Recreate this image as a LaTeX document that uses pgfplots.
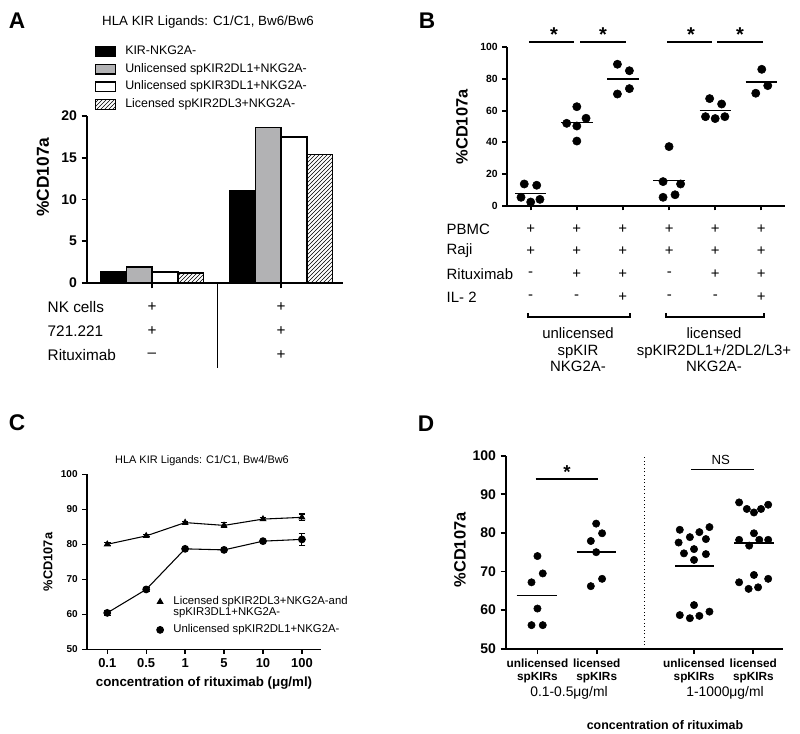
\documentclass[border=0pt]{standalone}
\usepackage{fontspec}
\setmainfont{Liberation Sans}
\usepackage{pgfplots}
\pgfplotsset{compat=1.18}
\usetikzlibrary{patterns}

\definecolor{barg}{RGB}{178,178,180}
\newcommand{\fs}[1]{\fontsize{#1}{#1}\selectfont}

\pgfplotsset{
  gp/.style={
    scale only axis,
    anchor=south west,
    axis x line=bottom, axis y line=left,
    axis line style={-, line width=1.4pt},
    tick align=outside,
    major tick length=4pt,
    tick style={line width=1.4pt, black},
    /pgf/number format/assume math mode=true,
    clip=false,
  },
  dots/.style={only marks, mark=*, black, mark size=#1},
  mean/.style={black, line width=1.2pt, no marks},
}

\begin{document}
\begin{tikzpicture}
\path[use as bounding box] (0,0) rectangle (600pt,550.5pt);

% ---------------- A ----------------
\begin{axis}[gp, at={(87*0.75pt,451*0.75pt)}, width=192pt, height=125.25pt,
  xmin=0.496, xmax=2.48, ymin=0, ymax=20,
  ytick={0,5,...,20}, xtick={1,2}, xticklabels={},
  yticklabel style={font=\fs{10.5}\bfseries},
  legend image code/.code={\draw[#1] (0pt,-3.6pt) rectangle (15pt,3.6pt);},
  legend style={draw=none, fill=none, at={(axis description cs:0.013,1.45)},
    anchor=north west, font=\fs{9.3}, row sep=2pt,
    nodes={inner sep=1.5pt, text height=6.5pt, text depth=1.8pt},
    /tikz/every odd column/.append style={column sep=5.5pt}},
  legend cell align=left]
\addplot[ybar, bar width=0.2, bar shift=0pt, draw=black, line width=1pt, fill=black]
  coordinates {(0.7,1.3) (1.7,11.0)};
\addlegendentry{KIR-NKG2A-}
\addplot[ybar, bar width=0.2, bar shift=0pt, draw=black, line width=1pt, fill=barg]
  coordinates {(0.9,1.9) (1.9,18.6)};
\addlegendentry{Unlicensed spKIR2DL1+NKG2A-}
\addplot[ybar, bar width=0.2, bar shift=0pt, draw=black, line width=1pt, fill=white]
  coordinates {(1.1,1.3) (2.1,17.5)};
\addlegendentry{Unlicensed spKIR3DL1+NKG2A-}
\addplot[ybar, bar width=0.2, bar shift=0pt, draw=black, line width=1pt, pattern=north east lines]
  coordinates {(1.3,1.2) (2.3,15.4)};
\addlegendentry{Licensed spKIR2DL3+NKG2A-}
\end{axis}

% ---------------- B ----------------
\begin{axis}[gp, at={(507*0.75pt,528.3*0.75pt)}, width=208.5pt, height=118.8pt,
  xmin=0.486, xmax=6.514, ymin=0, ymax=100,
  ytick={0,20,...,100}, xtick={1,...,6}, xticklabels={},
  major tick length=3.5pt,
  yticklabel style={font=\fs{7.8}\bfseries}]
\addplot[dots=3.1pt] coordinates {
  (0.86,13.7) (1.13,12.9) (0.79,5.3) (1.0,2.3) (1.2,4.0)
  (2.0,62.5) (1.78,52.0) (2.0,50.3) (2.2,55.2) (2.0,40.8)
  (2.88,89.3) (3.14,85.2) (2.88,70.5) (3.14,73.9)
  (4.0,37.3) (3.87,15.2) (4.25,13.7) (3.87,5.3) (4.13,6.9)
  (4.88,67.6) (5.14,64.2) (4.79,56.2) (5.0,55.0) (5.21,56.2)
  (6.01,86.1) (5.88,71.0) (6.14,75.8)};
\addplot[mean] coordinates {(0.66,7.6) (1.34,7.6)};
\addplot[mean] coordinates {(1.66,52.4) (2.34,52.4)};
\addplot[mean] coordinates {(2.66,80.0) (3.34,80.0)};
\addplot[mean] coordinates {(3.66,15.8) (4.34,15.8)};
\addplot[mean] coordinates {(4.66,60.0) (5.34,60.0)};
\addplot[mean] coordinates {(5.66,77.9) (6.34,77.9)};
\draw[line width=1pt] (0.96,103.3) -- (1.94,103.3);
\draw[line width=1pt] (2.07,103.3) -- (3.07,103.3);
\draw[line width=1pt] (3.96,103.3) -- (4.94,103.3);
\draw[line width=1pt] (5.04,103.3) -- (6.04,103.3);
\end{axis}

% ---------------- C ----------------
\begin{axis}[gp, at={(87*0.75pt,84.7*0.75pt)}, width=175.5pt, height=131.25pt,
  xmin=0.48, xmax=6.49, ymin=50, ymax=100,
  ytick={50,60,...,100}, xtick={1,...,6}, xticklabels={0.1,0.5,1,5,10,100},
  axis line style={-, line width=1pt}, tick style={line width=1pt, black},
  major tick length=3.5pt,
  yticklabel style={font=\fs{7.5}\bfseries},
  xticklabel style={font=\fs{9.7}\bfseries},
  legend image code/.code={\draw[#1, only marks] plot coordinates {(0cm,0cm)};},
  legend style={draw=none, fill=none, at={(axis description cs:0.28,0.32)},
    anchor=north west, font=\fs{8.5}, row sep=0pt,
    nodes={inner sep=0.5pt, text height=5.8pt, text depth=1.5pt},
    /tikz/every odd column/.append style={column sep=7pt}},
  legend cell align=left]
\addplot[black, line width=0.8pt, mark=triangle*, mark size=2.3pt,
  error bars/.cd, y dir=both, y explicit,
  error bar style={line width=0.8pt},
  error mark options={rotate=90, mark size=2.5pt, line width=0.8pt}]
  coordinates {(1,80.0) +- (0,0.4) (2,82.4) +- (0,0.3) (3,86.2) +- (0,0.4)
               (4,85.4) +- (0,0.7) (5,87.2) +- (0,0.4) (6,87.7) +- (0,0.95)};
\addlegendentry{Licensed spKIR2DL3+NKG2A-and}
\addlegendimage{empty legend}
\addlegendentry[text depth=6pt]{spKIR3DL1+NKG2A-}
\addplot[black, line width=0.8pt, mark=*, mark size=2.5pt,
  error bars/.cd, y dir=both, y explicit,
  error bar style={line width=0.8pt},
  error mark options={rotate=90, mark size=2.5pt, line width=0.8pt}]
  coordinates {(1,60.4) +- (0,0.7) (2,67.1) +- (0,0.6) (3,78.7) +- (0,0.4)
               (4,78.4) +- (0,0.3) (5,80.9) +- (0,0.4) (6,81.4) +- (0,1.7)};
\addlegendentry{Unlicensed spKIR2DL1+NKG2A-}
\end{axis}

% ---------------- D ----------------
\begin{axis}[gp, at={(506*0.75pt,85.3*0.75pt)}, width=207.75pt, height=144.75pt,
  xmin=0.47, xmax=5.14, ymin=50, ymax=100,
  ytick={50,60,...,100}, xtick={1,2,3.64,4.64},
  xticklabels={{unlicensed\\spKIRs},{licensed\\spKIRs},{unlicensed\\spKIRs},{licensed\\spKIRs}},
  xticklabel style={align=center, font=\fontsize{8.85}{9.75}\selectfont\bfseries},
  yticklabel style={font=\fs{10.5}\bfseries}]
\addplot[dots=2.75pt] coordinates {
  (1.0,74.0) (1.09,69.5) (0.9,67.2) (1.0,60.4) (0.9,56.1) (1.09,56.1)
  (1.99,82.4) (2.09,79.9) (1.9,77.9) (1.99,75.0) (2.09,68.1) (1.9,66.2)
  (3.40,80.8) (3.57,78.9) (3.73,80.2) (3.90,81.5) (3.38,77.5) (3.84,78.4)
  (3.47,74.7) (3.64,75.8) (3.84,74.5) (3.64,73.0) (3.40,58.7) (3.57,57.9)
  (3.73,58.5) (3.90,59.6) (3.64,61.3)
  (4.40,87.9) (4.53,86.2) (4.65,85.3) (4.77,86.2) (4.89,87.3) (4.40,78.2)
  (4.65,79.9) (4.74,78.2) (4.89,78.2) (4.57,76.7) (4.40,67.2) (4.56,65.5)
  (4.65,69.1) (4.72,65.9) (4.89,68.1)};
\addplot[mean] coordinates {(0.65,63.8) (1.33,63.8)};
\addplot[mean] coordinates {(1.66,75.0) (2.33,75.0)};
\addplot[mean] coordinates {(3.32,71.4) (3.98,71.4)};
\addplot[mean] coordinates {(4.32,77.4) (4.98,77.4)};
\draw[dotted, line width=0.7pt] (2.81,50) -- (2.81,100);
\draw[line width=1pt] (0.97,94.0) -- (2.02,94.0);
\draw[line width=1pt] (3.59,96.5) -- (4.65,96.5);
\node[font=\fs{9.9}] at (4.09,98.9) {NS};
\node[font=\fs{14}\bfseries] at (1.5,95.8) {*};
\end{axis}

% ---------------- text outside the axes (pixel units, y up) ----------------
\begin{scope}[x=0.75pt, y=0.75pt]
% A
\node[font=\fs{17}\bfseries] at (17,713) {A};
\node[font=\fs{10}] at (208,712) {HLA KIR Ligands: C1/C1, Bw6/Bw6};
\node[rotate=90, font=\fs{13}\bfseries] at (43,557) {\%CD107a};
\begin{scope}[every node/.style={font=\fs{11.5}}]
\node[anchor=west] at (43,427) {NK cells};
\node[anchor=west] at (43,403) {721.221};
\node[anchor=west] at (43,379) {Rituximab};
\node at (152,427) {+}; \node at (281,427) {+};
\node at (152,403) {+}; \node at (281,403) {+};
\node at (152,379) {–}; \node at (281,379) {+};
\end{scope}
\draw[line width=0.7pt] (217,451) -- (217,366);
% B
\node[font=\fs{17}\bfseries] at (427,713) {B};
\node[rotate=90, font=\fs{12.3}\bfseries] at (462,607) {\%CD107a};
\begin{scope}[every node/.style={font=\fs{15}\bfseries}]
\node at (554,699) {*}; \node at (603,699) {*};
\node at (691,699) {*}; \node at (740,699) {*};
\end{scope}
\begin{scope}[every node/.style={font=\fs{11.2}}]
\node[anchor=west] at (442,505) {PBMC};
\node[anchor=west] at (442,483) {Raji};
\node[anchor=west] at (442,460) {Rituximab};
\node[anchor=west] at (442,437) {IL- 2};
\foreach \x in {530.7,576.7,622.7,669.3,715.3,761.3} {
  \node at (\x,505) {+}; \node at (\x,483) {+};
}
\foreach \x/\s in {530.7/-,576.7/+,622.7/+,669.3/-,715.3/+,761.3/+} {
  \node at (\x,460) {\s};
}
\foreach \x/\s in {530.7/-,576.7/-,622.7/+,669.3/-,715.3/-,761.3/+} {
  \node at (\x,437) {\s};
}
\end{scope}
\draw[line width=0.8pt] (528,421) -- (528,417) -- (630,417) -- (630,421);
\draw[line width=0.8pt] (666,421) -- (666,417) -- (764,417) -- (764,421);
\node[align=center, font=\fontsize{11.2}{12.4}\selectfont] at (578,384) {unlicensed\\spKIR\\NKG2A-};
\node[align=center, font=\fontsize{11.2}{12.4}\selectfont] at (714,384) {licensed\\spKIR2DL1+/2DL2/L3+\\NKG2A-};
% C
\node[font=\fs{17}\bfseries] at (17,311) {C};
\node[font=\fs{8.2}] at (202,273) {HLA KIR Ligands: C1/C1, Bw4/Bw6};
\node[rotate=90, font=\fs{9.6}\bfseries] at (48,172) {\%CD107a};
\node[font=\fs{10}\bfseries] at (204,51) {concentration of rituximab (μg/ml)};
% D
\node[font=\fs{17}\bfseries] at (426,310) {D};
\node[rotate=90, font=\fs{12.3}\bfseries] at (460,184) {\%CD107a};
\node[font=\fs{10.4}] at (569,41) {0.1-0.5μg/ml};
\node[font=\fs{10.4}] at (725,41) {1-1000μg/ml};
\node[font=\fs{9.3}\bfseries] at (665,9) {concentration of rituximab};
\end{scope}

\end{tikzpicture}
\end{document}
